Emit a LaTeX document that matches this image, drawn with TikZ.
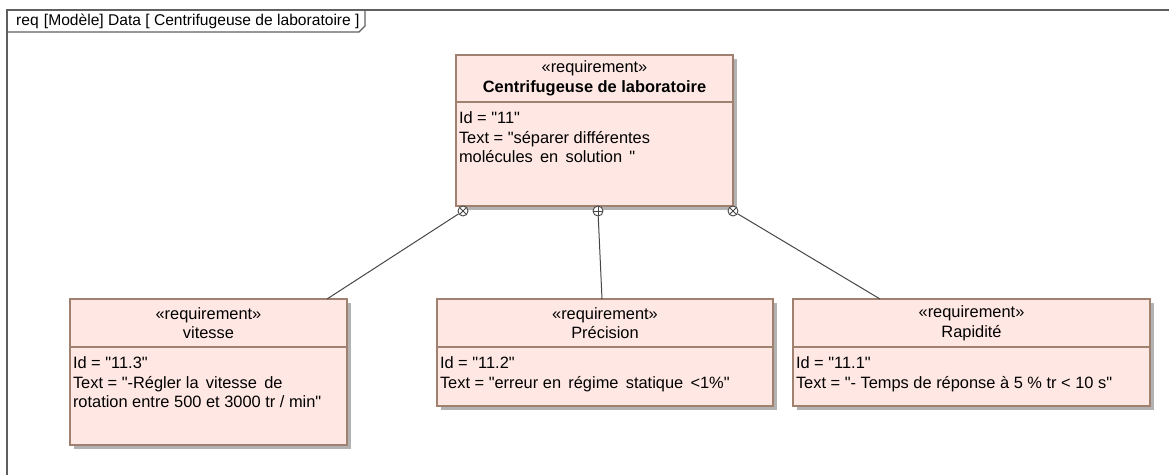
\documentclass[tikz,border=0pt]{standalone}
\usepackage{fontspec}
\setmainfont{Liberation Sans}[Ligatures=TeXOff]
\usetikzlibrary{positioning, calc, shadows}

\definecolor{reqfill}{RGB}{255,232,227}
\definecolor{reqdraw}{RGB}{160,128,110}
\definecolor{framegray}{RGB}{95,95,95}
\definecolor{linkgray}{RGB}{70,70,70}

\begin{document}
\begin{tikzpicture}[
    x=1pt, y=-1pt,
    every node/.style={font=\fontsize{16.4}{19.6}\selectfont},
    reqhead/.style={
        rectangle,
        draw=reqdraw,
        fill=reqfill,
        line width=1.2pt,
        outer sep=0pt,
        inner sep=0pt,
        align=center,
        minimum height=46pt,
        drop shadow={shadow xshift=4pt, shadow yshift=-4pt, fill=black!30, opacity=1}
    },
    reqbody/.style={
        rectangle,
        draw=reqdraw,
        fill=reqfill,
        line width=1.2pt,
        outer sep=0pt,
        inner xsep=3pt,
        inner ysep=8pt,
        drop shadow={shadow xshift=4pt, shadow yshift=-4pt, fill=black!30, opacity=1}
    },
    otimes/.style={
        circle,
        draw=linkgray,
        fill=white,
        line width=0.9pt,
        minimum size=10pt,
        inner sep=0pt,
        path picture={
            \draw[linkgray, line width=0.8pt] (path picture bounding box.north west) -- (path picture bounding box.south east);
            \draw[linkgray, line width=0.8pt] (path picture bounding box.north east) -- (path picture bounding box.south west);
        }
    },
    oplus/.style={
        otimes,
        path picture={
            \draw[linkgray, line width=0.8pt] (path picture bounding box.north) -- (path picture bounding box.south);
            \draw[linkgray, line width=0.8pt] (path picture bounding box.west) -- (path picture bounding box.east);
        }
    },
    link/.style={
        draw=linkgray,
        line width=1pt
    },
    frame/.style={
        draw=framegray,
        line width=1.4pt
    }
]

\useasboundingbox (0,0) rectangle (1169,474);
\clip (0,0) rectangle (1169,474);

% Diagram frame
\draw[frame] (7,10) rectangle (1200,500);
\node[anchor=west, inner sep=0pt, font=\fontsize{15.6}{18}\selectfont] (flabel) at (16,21) {req\,\,[Modèle] Data [ Centrifugeuse de laboratoire ]};
\draw[frame] (7,32) -- (359,32) -- (365,26) -- (365,10);

% Top requirement
\node[reqhead, minimum width=277pt, minimum height=47pt, anchor=north] (centriH) at (594.5,55) {«requirement»\\\textbf{Centrifugeuse de laboratoire}};
\node[reqbody, below=0pt of centriH] (centriB) {\parbox[t][88pt][t]{271pt}{\raggedright\strut Id = "11"\\Text = "séparer différentes\\molécules\, en\, solution\, "}};

% Sub requirements
\node[reqhead, minimum width=336pt, minimum height=48pt, below=93pt of centriB, xshift=10.5pt] (preH) {«requirement»\\Précision};
\node[reqbody, below=0pt of preH] (preB) {\parbox[t][43pt][t]{330pt}{\raggedright\strut Id = "11.2"\\Text = "erreur en\, régime\, statique\, <1\%"}};

\node[reqhead, minimum width=277pt, minimum height=48pt, left=90pt of preH] (vitH) {«requirement»\\vitesse};
\node[reqbody, below=0pt of vitH] (vitB) {\parbox[t][82pt][t]{271pt}{\raggedright\strut Id = "11.3"\\Text = "-Régler la\, vitesse\, de\\rotation entre 500 et 3000 tr / min"}};

\node[reqhead, minimum width=357pt, minimum height=48pt, right=20pt of preH] (rapH) {«requirement»\\Rapidité};
\node[reqbody, below=0pt of rapH] (rapB) {\parbox[t][43pt][t]{351pt}{\raggedright\strut Id = "11.1"\\Text = "- Temps de réponse à 5 \% tr < 10 s"}};

% Containment ends
\node[otimes] (tl) at ($(centriB.south west)+(7,5)$) {};
\node[oplus] (tm) at ($(centriB.south)+(3.5,5)$) {};
\node[otimes] (tr) at ($(centriB.south east)+(0,5)$) {};

% Containment links
\draw[link] (tl) -- ($(vitH.north east)+(-20,0)$);
\draw[link] (tm) -- ($(preH.north)+(-3,0)$);
\draw[link] (tr) -- ($(rapH.north west)+(87,0)$);

\end{tikzpicture}
\end{document}
